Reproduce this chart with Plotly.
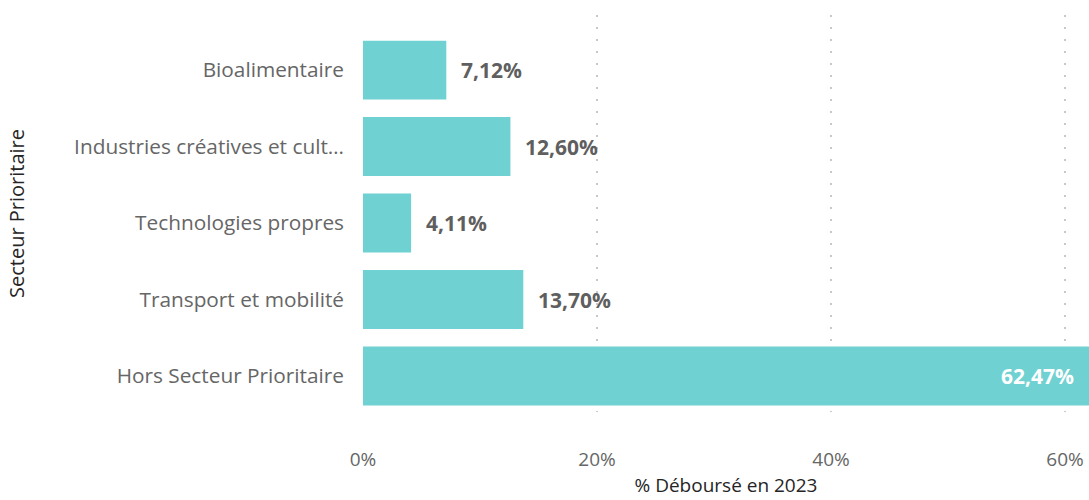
import plotly.graph_objects as go

categories = ["Bioalimentaire", "Industries créatives et cult…", "Technologies propres",
              "Transport et mobilité", "Hors Secteur Prioritaire"]
values = [7.12, 12.60, 4.11, 13.70, 62.47]
labels = ["7,12%", "12,60%", "4,11%", "13,70%", "62,47%"]
x_ticks = [0, 20, 40, 60]
x_tick_labels = ["0%", "20%", "40%", "60%"]

X_MAX = 62.05
BAR_COLOR = "#6FD1D1"
FONT = "Open Sans"

fig = go.Figure(go.Bar(
    y=categories, x=values, orientation="h",
    marker=dict(color=BAR_COLOR, line=dict(width=0)),
    width=0.77, hoverinfo="skip",
))

for cat, v, lab in zip(categories, values, labels):
    if v > X_MAX * 0.9:
        fig.add_annotation(x=X_MAX, y=cat, text=f"<b>{lab}</b>", showarrow=False,
                           xanchor="right", xshift=-13,
                           font=dict(family=FONT, size=21, color="white"))
    else:
        fig.add_annotation(x=v, y=cat, text=f"<b>{lab}</b>", showarrow=False,
                           xanchor="left", xshift=13,
                           font=dict(family=FONT, size=21, color="#5f5f5f"))

fig.update_layout(
    width=1089, height=500,
    margin=dict(l=363, r=0, t=15, b=88, autoexpand=False),
    paper_bgcolor="white", plot_bgcolor="white",
    showlegend=False,
    font=dict(family=FONT),
    xaxis=dict(range=[0, X_MAX], tickvals=x_ticks, ticktext=x_tick_labels,
               showgrid=True, gridcolor="#c8c8c8", gridwidth=2, griddash="2px,10px",
               zeroline=False, showline=False, ticks="",
               tickfont=dict(family=FONT, size=19, color="#666666"),
               ticklabelstandoff=34, automargin=False,
               title=dict(text="% Déboursé en 2023", standoff=6,
                          font=dict(family=FONT, size=19, color="#252525"))),
    yaxis=dict(categoryorder="array", categoryarray=categories,
               range=[4.47, -0.72], showgrid=False, zeroline=False, showline=False,
               ticks="", ticklabelstandoff=18, automargin=False,
               tickfont=dict(family=FONT, size=20.8, color="#666666"),
               title=dict(text="Secteur Prioritaire", standoff=44,
                          font=dict(family=FONT, size=20, color="#252525"))),
)

fig.write_html(
    "out.html",
    config={"displayModeBar": False},
    post_script="document.documentElement.style.margin='0';document.body.style.margin='0';"
                "document.documentElement.style.overflow='hidden';document.body.style.overflow='hidden';",
)
